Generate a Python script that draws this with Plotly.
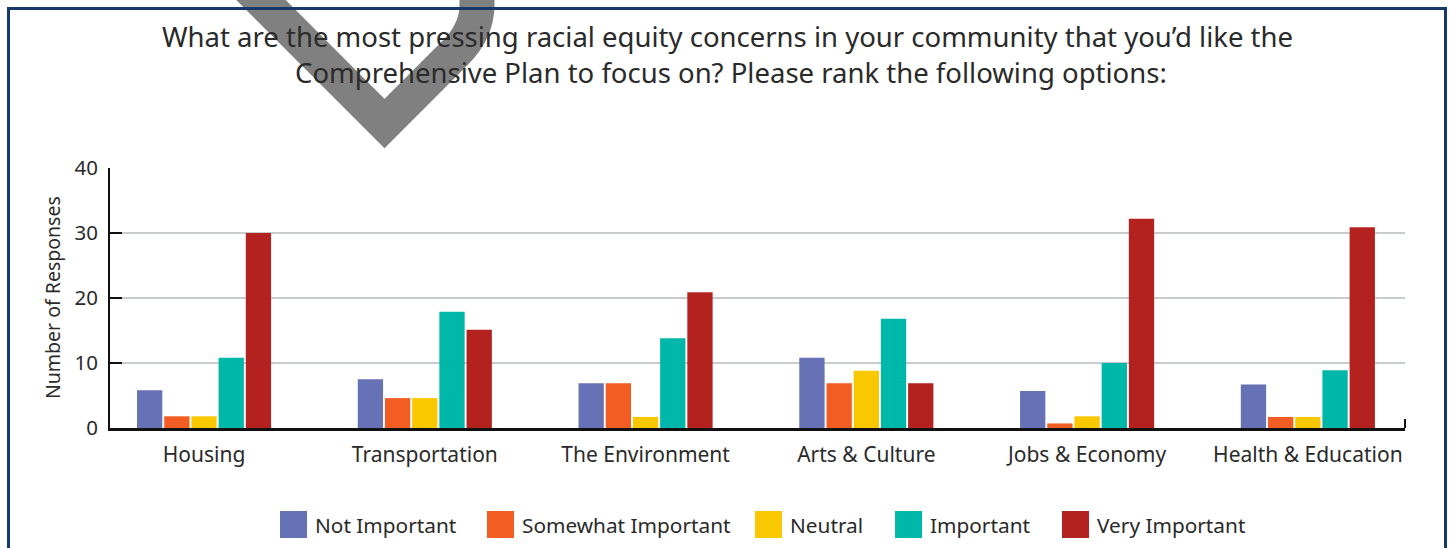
import plotly.graph_objects as go

# Survey responses by topic and importance rating
categories = ["Housing", "Transportation", "The Environment", "Arts & Culture",
              "Jobs & Economy", "Health & Education"]
series_names = ["Not Important", "Somewhat Important", "Neutral", "Important", "Very Important"]
not_important = [5.8, 7.5, 6.9, 10.8, 5.7, 6.7]
somewhat_important = [1.8, 4.6, 6.9, 6.9, 0.7, 1.7]
neutral = [1.8, 4.6, 1.7, 8.8, 1.8, 1.7]
important = [10.8, 17.9, 13.8, 16.8, 10.0, 8.9]
very_important = [30.0, 15.1, 20.9, 6.9, 32.2, 30.9]
series_values = [not_important, somewhat_important, neutral, important, very_important]
colors = ["#6771B5", "#F15D22", "#FAC800", "#00B8A9", "#B3221E"]
y_ticks = [0, 10, 20, 30, 40]

W, H = 1450, 548
ML, MR, MT, MB = 110, 45, 168, 120
FONT = "Noto Sans"


def px_x(p):
    return (p - ML) / (W - ML - MR)


def px_y(p):
    return (H - MB - p) / (H - MT - MB)


fig = go.Figure()
for name, vals, col in zip(series_names, series_values, colors):
    fig.add_trace(go.Bar(x=categories, y=vals, name=name, marker_color=col,
                         marker_line_width=0, showlegend=False))

shapes = []
annotations = []

# decorative check mark behind the heading
check = (f"M {px_x(241)},{px_y(-20)} L {px_x(384.5)},{px_y(123.5)} "
         f"L {px_x(455)},{px_y(53)} Q {px_x(477)},{px_y(31)} {px_x(477)},{px_y(5)} "
         f"L {px_x(477)},{px_y(-25)}")
shapes.append(dict(type="path", xref="paper", yref="paper", path=check,
                   line=dict(color="#808080", width=35), layer="below"))

# navy frame (open at the bottom)
frame = (f"M {px_x(8.5)},{px_y(600)} L {px_x(8.5)},{px_y(8.5)} "
         f"L {px_x(1445.5)},{px_y(8.5)} L {px_x(1445.5)},{px_y(600)}")
shapes.append(dict(type="path", xref="paper", yref="paper", path=frame,
                   line=dict(color="#14396A", width=3)))

# small end tick at the right of the category axis
shapes.append(dict(type="line", xref="paper", yref="paper",
                   x0=1, x1=1, y0=0, y1=px_y(419),
                   line=dict(color="#111111", width=2)))

# heading
annotations.append(dict(xref="paper", yref="paper", x=px_x(727), y=px_y(36),
                        text="What are the most pressing racial equity concerns in your community that you’d like the",
                        showarrow=False, xanchor="center", yanchor="middle",
                        font=dict(family=FONT, size=27.5, color="#2a2a2a")))
annotations.append(dict(xref="paper", yref="paper", x=px_x(731), y=px_y(73),
                        text="Comprehensive Plan to focus on? Please rank the following options:",
                        showarrow=False, xanchor="center", yanchor="middle",
                        font=dict(family=FONT, size=27.5, color="#2a2a2a")))

# value axis title
annotations.append(dict(xref="paper", yref="paper", x=px_x(52), y=px_y(298),
                        text="Number of Responses", textangle=-90, showarrow=False,
                        xanchor="center", yanchor="middle",
                        font=dict(family=FONT, size=19.5, color="#2a2a2a")))

# legend row: colour squares with labels
legend_left = [280, 487, 755, 895, 1062]
for name, col, lx in zip(series_names, colors, legend_left):
    shapes.append(dict(type="rect", xref="paper", yref="paper",
                       x0=px_x(lx), x1=px_x(lx + 27), y0=px_y(538), y1=px_y(511),
                       fillcolor=col, line=dict(width=0)))
    annotations.append(dict(xref="paper", yref="paper", x=px_x(lx + 33), y=px_y(525),
                            text=name, showarrow=False, xanchor="left", yanchor="middle",
                            font=dict(family=FONT, size=20.8, color="#2a2a2a")))

fig.update_layout(
    width=W, height=H,
    margin=dict(l=ML, r=MR, t=MT, b=MB, pad=0),
    paper_bgcolor="white", plot_bgcolor="white",
    barmode="group", bargap=0.384, bargroupgap=0.07,
    shapes=shapes, annotations=annotations,
    font=dict(family=FONT, color="#2a2a2a"),
    xaxis=dict(type="category", range=[-0.426, 5.44], showline=True,
               linecolor="#111111", linewidth=2.5, ticks="", showgrid=False,
               tickfont=dict(family=FONT, size=21, color="#2a2a2a"),
               ticklabelstandoff=6),
    yaxis=dict(range=[0, 40], tickvals=y_ticks, showline=True, linecolor="#111111",
               linewidth=2, ticks="inside", ticklen=12, tickwidth=2, tickcolor="#111111",
               showgrid=True, gridcolor="#c9cccc", gridwidth=1.5, zeroline=False,
               tickfont=dict(family=FONT, size=20.5, color="#2a2a2a"),
               ticklabelstandoff=6),
)

fig.write_html("out.html")
